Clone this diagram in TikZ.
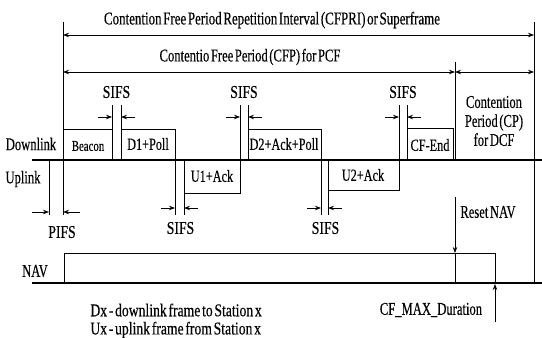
\documentclass[tikz,border=0pt]{standalone}
\usepackage{fontspec}
\setmainfont{Liberation Serif}[FakeStretch=0.70, WordSpace=0.5, FakeBold=0.3]
\newfontfamily\framefont{Liberation Serif}[FakeStretch=0.72, WordSpace=0.5, FakeBold=0.3]
\newfontfamily\titlefont{Liberation Serif}[FakeStretch=0.72, WordSpace=0.5, FakeBold=0.3]
\newfontfamily\widefont{Liberation Serif}[FakeStretch=0.76, WordSpace=0.5, FakeBold=0.3]
\usetikzlibrary{arrows.meta}
\begin{document}
\begin{tikzpicture}[x=1pt,y=-1pt,line width=0.8pt,
  lbl/.style={inner sep=0pt,font=\fontsize{18}{19}\selectfont},
  ttl/.style={inner sep=0pt,font=\titlefont\fontsize{18}{19}\selectfont},
  wde/.style={inner sep=0pt,font=\widefont\fontsize{18}{19}\selectfont},
  frm/.style={inner sep=0pt,font=\framefont\fontsize{17}{18}\selectfont},
  sml/.style={inner sep=0pt,font=\framefont\fontsize{15}{16}\selectfont},
  tip/.style={-{Stealth[length=6pt,width=4.5pt]}},
  dtip/.style={{Stealth[length=6pt,width=4.5pt]}-{Stealth[length=6pt,width=4.5pt]}},
  axis/.style={line width=1.3pt}]
\useasboundingbox (0,0) rectangle (542,338);
% frame lines
\coordinate (L0) at (63,22); \coordinate (L1) at (63,215);
\coordinate (R0) at (534,22); \coordinate (R1) at (534,283);
\draw (L0) -- (L1);
\draw (R0) -- (R1);
% period arrows
\node[ttl] (tcfpri) at (272,20) {Contention Free Period Repetition Interval (CFPRI) or Superframe};
\coordinate (a1) at (63,35); \coordinate (a2) at (534,35);
\draw[dtip] (a1) -- (a2);
\node[lbl] (tcfp) at (250,57) {Contentio Free Period (CFP) for PCF};
\coordinate (b1) at (63,72); \coordinate (b2) at (455,72); \coordinate (b3) at (534,72);
\draw[dtip] (b1) -- (b2);
\draw[dtip] (b2) -- (b3);
\coordinate (cp0) at (455,62); \coordinate (cp1) at (455,160);
\draw (cp0) -- (cp1);
% main axis
\coordinate (m0) at (32,160); \coordinate (m1) at (542,160);
\draw[axis] (m0) -- (m1);
% left labels
\node[lbl] (dl) at (31,144) {Downlink};
\node[lbl] (ul) at (23,179) {Uplink};
\node[lbl] (nav) at (35,271) {NAV};
% Beacon
\draw (63,129) -- (112,129);
\draw (112,160) -- (112,105);
\node[sml] (beacon) at (88,146) {Beacon};
% D1+Poll
\draw (121,160) -- (121,105);
\draw (121,129) -- (175,129) -- (175,215);
\node[frm] (d1) at (148,144) {D1+Poll};
% U1+Ack
\draw (184,160) -- (184,215);
\draw (184,193) -- (240,193) -- (240,105);
\node[frm] (u1) at (212,176) {U1+Ack};
% D2+Ack+Poll
\draw (248,160) -- (248,105);
\draw (248,129) -- (321,129) -- (321,215);
\node[frm] (d2) at (284,144) {D2+Ack+Poll};
% U2+Ack
\draw (328,160) -- (328,215);
\draw (328,190) -- (399,190) -- (399,105);
\node[frm] (u2) at (363,175) {U2+Ack};
% CF-End
\draw (407,160) -- (407,105);
\draw (407,128) -- (453,128) -- (453,160);
\node[frm] (cfend) at (430,145) {CF-End};
% CP text
\node[lbl,align=center,font=\fontsize{18}{19}\selectfont] (cp) at (494,121) {Contention\\Period (CP)\\for DCF};
% upper SIFS
\foreach \l/\r/\n in {112/121/s1,240/248/s2,399/407/s3}{
  \draw[tip] (\l-14,117) -- (\l,117);
  \draw[tip] (\r+14,117) -- (\r,117);
  \node[wde] (\n) at ({(\l+\r)/2},92) {SIFS};
}
% lower SIFS
\foreach \l/\r/\n in {175/184/s4,321/328/s5}{
  \draw[tip] (\l-14,208) -- (\l,208);
  \draw[tip] (\r+14,208) -- (\r,208);
  \node[wde] (\n) at ({(\l+\r)/2+1},228) {SIFS};
}
% PIFS
\draw (49,160) -- (49,215);
\draw[tip] (32,212) -- (49,212);
\draw[tip] (80,212) -- (63,212);
\node[wde] (pifs) at (62,232) {PIFS};
% NAV
\coordinate (n0) at (32,283); \coordinate (n1) at (542,283);
\draw[axis] (n0) -- (n1);
\draw (64,283) -- (64,253) -- (495,253) -- (495,283);
\coordinate (rs0) at (455,197); \coordinate (rs1) at (455,253); \coordinate (rs2) at (455,283);
\draw[tip] (rs0) -- (rs1);
\draw (rs1) -- (rs2);
\node[lbl] (reset) at (488,212) {Reset NAV};
\coordinate (cm0) at (495,322); \coordinate (cm1) at (495,284);
\draw[tip] (cm0) -- (cm1);
\node[lbl] (cfmax) at (431,310) {CF\_MAX\_Duration};
\node[wde,anchor=west] (dx) at (90,310) {Dx - downlink frame to Station x};
\node[wde,anchor=west] (ux) at (90,330) {Ux - uplink frame from Station x};
\end{tikzpicture}
\end{document}
